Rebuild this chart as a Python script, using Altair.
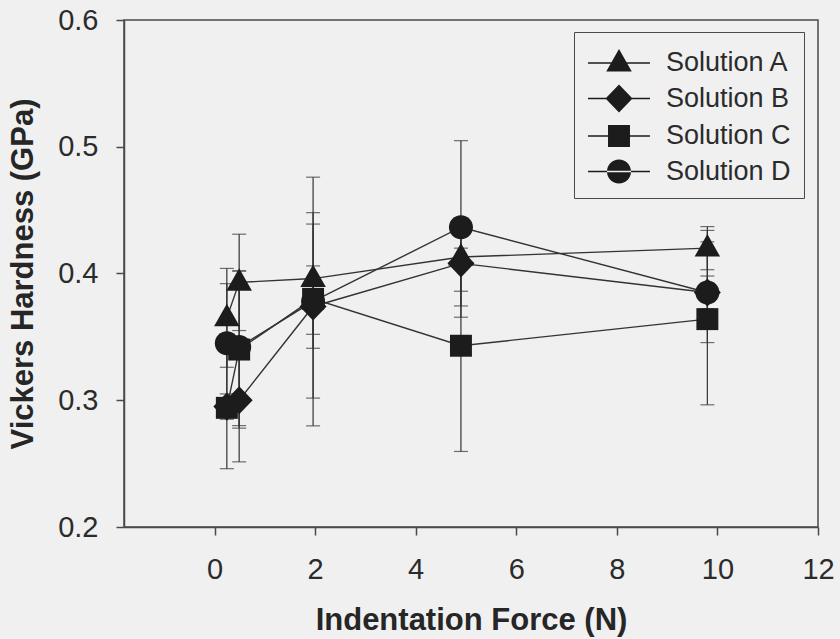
import altair as alt
import pandas as pd

forces = [0.245, 0.49, 1.96, 4.9, 9.8]
series = ["Solution A", "Solution B", "Solution C", "Solution D"]

mean_a = [0.365, 0.393, 0.396, 0.413, 0.420]
lo_a = [0.326, 0.355, 0.352, 0.386, 0.403]
hi_a = [0.404, 0.431, 0.439, 0.440, 0.437]

mean_b = [0.295, 0.300, 0.374, 0.408, 0.385]
lo_b = [0.285, 0.2514, 0.341, 0.3744, 0.372]
hi_b = [0.305, 0.349, 0.406, 0.442, 0.398]

mean_c = [0.294, 0.340, 0.380, 0.343, 0.364]
lo_c = [0.246, 0.278, 0.3017, 0.2596, 0.2964]
hi_c = [0.342, 0.402, 0.448, 0.420, 0.434]

mean_d = [0.345, 0.342, 0.378, 0.4365, 0.385]
lo_d = [0.298, 0.280, 0.2798, 0.3655, 0.3455]
hi_d = [0.392, 0.402, 0.476, 0.5048, 0.425]

x_ticks = [0, 2, 4, 6, 8, 10, 12]
y_ticks = [0.2, 0.3, 0.4, 0.5, 0.6]

rows = []
for name, m, lo, hi in zip(series, [mean_a, mean_b, mean_c, mean_d],
                           [lo_a, lo_b, lo_c, lo_d], [hi_a, hi_b, hi_c, hi_d]):
    for f, v, l, h in zip(forces, m, lo, hi):
        rows.append({"series": name, "force": f, "hv": v, "lo": l, "hi": h})
df = pd.DataFrame(rows)

# marker shapes (unit: 1 = 18 px with size 1296)
tri = "M0,-0.78L0.71,0.47L-0.71,0.47Z"
dia = "M0,-0.78L0.75,0L0,0.78L-0.75,0Z"
sq = "M-0.61,-0.61L0.61,-0.61L0.61,0.61L-0.61,0.61Z"
cir = "M-0.667,0A0.667,0.667 0 1,0 0.667,0A0.667,0.667 0 1,0 -0.667,0Z"
ln = "M-1.72,-0.045L1.72,-0.045L1.72,0.045L-1.72,0.045Z "
plot_shapes = [tri, dia, sq, cir]
legend_shapes = [ln + s for s in plot_shapes]

INK = "#1c1c1c"
LINE = "#333333"
AX = "#4a4a4a"
FONT = "Liberation Sans"

xscale = alt.Scale(domain=[-1.8, 12], nice=False, zero=False)
yscale = alt.Scale(domain=[0.2, 0.6], nice=False, zero=False)

xaxis = alt.Axis(values=x_ticks, title="Indentation Force (N)", grid=False,
                 tickSize=8, labelFontSize=29, labelPadding=20, labelFlush=False,
                 labelOverlap=False, titleFontSize=31, titleFontWeight="bold",
                 titlePadding=21, format="d")
yaxis = alt.Axis(values=y_ticks, title="Vickers Hardness (GPa)", grid=False,
                 tickSize=8, labelFontSize=29, labelPadding=18, format=".1f",
                 labelOverlap=False, titleFontSize=31, titleFontWeight="bold",
                 titlePadding=18)

base = alt.Chart(df)
x_enc = alt.X("force:Q", scale=xscale, axis=xaxis)
y_enc = alt.Y("hv:Q", scale=yscale, axis=yaxis)

bars = base.mark_rule(color=LINE, strokeWidth=1.2).encode(
    x=alt.X("force:Q", scale=xscale, axis=xaxis),
    y=alt.Y("lo:Q", scale=yscale, axis=yaxis),
    y2="hi:Q",
)
cap_lo = base.mark_tick(orient="horizontal", size=14, thickness=1.2, color=LINE).encode(
    x=alt.X("force:Q", scale=xscale, axis=xaxis),
    y=alt.Y("lo:Q", scale=yscale, axis=yaxis),
)
cap_hi = base.mark_tick(orient="horizontal", size=14, thickness=1.2, color=LINE).encode(
    x=alt.X("force:Q", scale=xscale, axis=xaxis),
    y=alt.Y("hi:Q", scale=yscale, axis=yaxis),
)
lines = base.mark_line(color=LINE, strokeWidth=1.4).encode(
    x=x_enc, y=y_enc, detail="series:N", order="force:Q"
)
legend_layer = base.mark_point(filled=True, opacity=0, color=INK, size=1296).encode(
    x=x_enc, y=y_enc,
    shape=alt.Shape("series:N", scale=alt.Scale(domain=series, range=legend_shapes),
                    legend=alt.Legend(title=None, orient="none", legendX=450, legendY=12,
                                      symbolSize=1296, symbolOpacity=1,
                                      symbolFillColor=INK, symbolStrokeWidth=0,
                                      labelFontSize=27, labelFont=FONT, labelColor="#2b2b2b",
                                      labelOffset=29, symbolOffset=14, rowPadding=4.5,
                                      padding=13, strokeColor=AX,
                                      labelExpr="datum.label + '\u00a0'",
                                      labelLimit=300)),
)
points = base.mark_point(filled=True, opacity=1, color=INK, size=1296).encode(
    x=x_enc, y=y_enc,
    shape=alt.Shape("series:N", scale=alt.Scale(domain=series, range=plot_shapes),
                    legend=None),
)

chart = alt.layer(bars, cap_lo, cap_hi, lines, legend_layer, points).resolve_scale(
    shape="independent"
).properties(
    width=694, height=507,
    autosize=alt.AutoSizeParams(type="none"),
    padding={"left": 124, "top": 20, "right": 22, "bottom": 112},
    background="#f0f0f0",
).configure_view(
    stroke=AX, strokeWidth=1.5, fill=None
).configure_axis(
    domainColor=AX, domainWidth=1.5, tickColor=AX, tickWidth=1.5,
    labelColor="#2b2b2b", titleColor="#262626", labelFont=FONT, titleFont=FONT,
)

chart.save("out.html", embed_options={"renderer": "svg", "actions": False})
